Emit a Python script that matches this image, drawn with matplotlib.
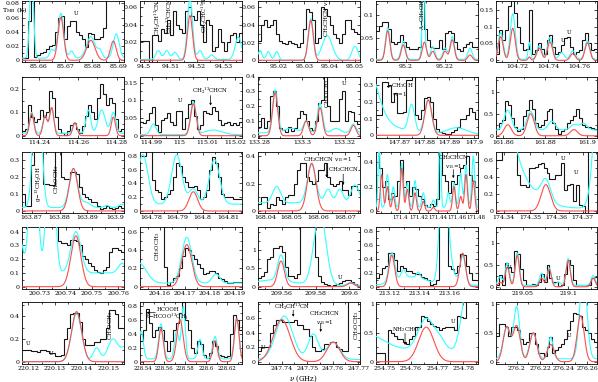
import numpy as np
import matplotlib.pyplot as plt
from matplotlib.ticker import AutoMinorLocator

plt.rcParams['font.family'] = ['DejaVu Serif']
plt.rcParams['mathtext.fontset'] = 'dejavuserif'

# ---- frequency windows (GHz) and T_MB ranges (K) of the 25 panels ----
xlims = [(85.6538, 85.6919), (94.4985, 94.5371), (95.0117, 95.0521), (95.1846, 95.2369), (104.7063, 104.7714),
         (114.2311, 114.2837), (114.9858, 115.0225), (133.2795, 133.3272), (147.8606, 147.9016), (161.8567, 161.9048),
         (163.8665, 163.9032), (164.7754, 164.8154), (168.0374, 168.0756), (171.3746, 171.4824), (174.337, 174.3755),
         (200.7234, 200.7622), (204.152, 204.1928), (209.546, 209.6063), (213.1111, 213.1791), (219.0207, 219.1315),
         (220.1176, 220.1559), (228.5369, 228.634), (247.7307, 247.7707), (254.7466, 254.7856), (276.1824, 276.2683)]
ylims = [(-0.0024, 0.0832), (-0.0019, 0.0663), (-0.0019, 0.067), (-0.0037, 0.1306), (-0.005, 0.176),
         (-0.01, 0.254), (-0.0065, 0.167), (-0.015, 0.4), (-0.016, 0.35), (-0.05, 1.34),
         (-0.012, 0.347), (-0.029, 0.858), (-0.015, 0.432), (-0.016, 0.485), (-0.024, 0.694),
         (-0.013, 0.434), (-0.02, 0.652), (-0.05, 1.63), (-0.026, 0.853), (-0.04, 1.376),
         (-0.02, 0.524), (-0.033, 0.853), (-0.032, 0.823), (-0.04, 1.036), (-0.04, 1.036)]
xticks = [[85.66, 85.67, 85.68, 85.69], [94.5, 94.51, 94.52, 94.53], [95.02, 95.03, 95.04, 95.05],
          [95.2, 95.22], [104.72, 104.74, 104.76],
          [114.24, 114.26, 114.28], [114.99, 115.0, 115.01, 115.02], [133.28, 133.3, 133.32],
          [147.87, 147.88, 147.89, 147.9], [161.86, 161.88, 161.9],
          [163.87, 163.88, 163.89, 163.9], [164.78, 164.79, 164.8, 164.81], [168.04, 168.05, 168.06, 168.07],
          [171.4, 171.42, 171.44, 171.46, 171.48], [174.34, 174.35, 174.36, 174.37],
          [200.73, 200.74, 200.75, 200.76], [204.16, 204.17, 204.18, 204.19], [209.56, 209.58, 209.6],
          [213.12, 213.14, 213.16], [219.05, 219.1],
          [220.12, 220.13, 220.14, 220.15], [228.54, 228.56, 228.58, 228.6, 228.62],
          [247.74, 247.75, 247.76, 247.77], [254.75, 254.76, 254.77, 254.78], [276.2, 276.22, 276.24, 276.26]]
yticks = [[0, 0.02, 0.04, 0.06, 0.08], [0, 0.02, 0.04, 0.06], [0, 0.02, 0.04, 0.06], [0, 0.05, 0.1], [0, 0.05, 0.1, 0.15],
          [0, 0.1, 0.2], [0, 0.05, 0.1, 0.15], [0, 0.1, 0.2, 0.3, 0.4], [0, 0.1, 0.2, 0.3], [0, 0.5, 1],
          [0, 0.1, 0.2, 0.3], [0, 0.2, 0.4, 0.6, 0.8], [0, 0.2, 0.4], [0, 0.2, 0.4], [0, 0.2, 0.4, 0.6],
          [0, 0.1, 0.2, 0.3, 0.4], [0, 0.2, 0.4, 0.6], [0, 0.5, 1], [0, 0.2, 0.4, 0.6, 0.8], [0, 0.5, 1],
          [0, 0.2, 0.4], [0, 0.2, 0.4, 0.6, 0.8], [0, 0.2, 0.4, 0.6], [0, 0.5, 1], [0, 0.5, 1]]

# ---- observed spectra (equal channels across each window) ----
obs = [
    [0.003, 0.003, 0.055, 0.1, 0.004, 0.008, 0.01, 0.012, 0.016, 0.02, 0.022, 0.04, 0.06, 0.062, 0.03, 0.048, 0.055,
     0.055, 0.04, 0.035, 0.03, 0.018, 0.038, 0.037, 0.03, 0.03, 0.032, 0.045, 0.1, 0.1, 0.1, 0.1, 0.1, 0.1],
    [0.022, 0.022, 0.022, -0.003, 0.028, 0.028, 0.022, 0.035, 0.03, 0.045, 0.028, 0.055, 0.04, 0.035, 0.03, 0.055,
     0.06, 0.05, 0.045, 0.055, 0.04, 0.02, 0.045, 0.04, 0.01, 0.015, 0.035, 0.02, 0.01, 0.02, 0.028, 0.03, 0.02, 0.03],
    [0.022, 0.04, 0.045, 0.038, 0.04, 0.045, 0.03, 0.022, 0.02, 0.018, 0.022, 0.02, 0.018, 0.015, 0.02, 0.035, 0.058,
     0.055, 0.045, 0.02, 0.025, 0.06, 0.058, 0.05, 0.04, 0.03, 0.025, 0.02, 0.03, 0.045, 0.045, 0.035, 0.032, 0.03],
    [0.065, 0.075, 0.085, 0.085, 0.07, 0.04, 0.035, 0.04, 0.055, 0.04, 0.03, 0.025, 0.025, 0.025, 0.03, 0.135, 0.07,
     0.045, 0.03, 0.028, 0.028, 0.045, 0.025, 0.06, 0.065, 0.06, 0.04, 0.025, 0.02, 0.03, 0.035, 0.04, 0.03, 0.03],
    [0.02, 0.09, 0.06, 0.09, 0.16, 0.19, 0.14, 0.1, 0.05, 0.03, 0.035, 0.15, 0.02, 0.03, 0.05, 0.035, 0.02, 0.06,
     0.075, 0.04, 0.02, 0.025, 0.045, 0.065, 0.07, 0.04, 0.02, 0.025, 0.03, 0.06, 0.08, 0.05, 0.03, 0.035],
    [0.02, 0.03, 0.13, 0.08, 0.06, 0.07, 0.11, 0.08, 0.1, 0.19, 0.16, 0.08, 0.03, 0.01, 0.005, 0.02, 0.045, 0.055,
     0.03, 0.01, 0.04, 0.085, 0.13, 0.1, 0.07, 0.16, 0.22, 0.18, 0.13, 0.16, 0.14, 0.07, 0.02, 0.03],
    [0.04, 0.035, 0.045, 0.065, 0.08, 0.03, 0.01, 0.045, 0.05, 0.065, 0.04, 0.03, 0.07, 0.07, 0.02, 0.05, 0.09, 0.1,
     0.055, 0.02, 0.03, 0.07, 0.065, 0.06, 0.08, 0.07, 0.045, 0.03, 0.035, 0.04, 0.03, 0.035, 0.03, 0.04],
    [0.06, 0.12, 0.05, 0.1, 0.27, 0.3, 0.2, 0.05, 0.04, 0.025, 0.06, 0.03, 0.05, 0.12, 0.17, 0.15, 0.1, 0.05, 0.04,
     0.1, 0.22, 0.24, 0.42, 0.2, 0.1, 0.1, 0.1, 0.25, 0.3, 0.1, 0.17, 0.16, 0.1, 0.08],
    [0.12, 0.12, 0.32, 0.32, 0.3, 0.2, 0.25, 0.13, 0.13, 0.14, 0.33, 0.33, 0.36, 0.12, 0.1, 0.15, 0.22, 0.23, 0.2,
     0.1, 0.04, 0.02, 0.015, 0.01, 0.01, 0.02, 0.03, 0.05, 0.1, 0.1, 0.12, 0.16, 0.14, 0.1],
    [0.15, 0.3, 0.35, 0.78, 0.7, 0.4, 0.2, 0.1, 0.15, 0.45, 0.58, 0.82, 0.6, 0.3, 0.2, 0.25, 0.35, 0.55, 0.6, 0.3,
     0.15, 0.05, 0.1, 0.15, 0.3, 0.35, 0.45, 0.6, 0.4, 0.25, 0.2, 0.2, 0.18, 0.15],
    [0.1, 0.03, 0.03, 0.27, 0.36, 0.36, 0.36, 0.16, 0.16, 0.15, 0.15, 0.36, 0.36, 0.2, 0.19, 0.19, 0.23, 0.23, 0.22,
     0.14, 0.1, 0.08, 0.07, 0.05, 0.05, 0.03, 0.01, 0.02, 0.03, 0.02, 0.01, 0.02, 0.03, 0.02],
    [0.8, 0.8, 0.9, 0.9, 0.45, 0.3, 0.28, 0.17, 0.2, 0.25, 0.3, 0.5, 0.7, 0.65, 0.5, 0.42, 0.35, 0.35, 0.36, 0.3,
     0.18, 0.2, 0.3, 0.6, 0.78, 0.7, 0.5, 0.25, 0.2, 0.2, 0.2, 0.18, 0.17, 0.17],
    [0.05, 0.1, 0.1, 0.02, 0.05, 0.04, 0.1, 0.08, 0.05, 0.1, 0.12, 0.12, 0.2, 0.3, 0.35, 0.35, 0.25, 0.22, 0.2, 0.22,
     0.3, 0.3, 0.35, 0.25, 0.2, 0.18, 0.2, 0.22, 0.15, 0.15, 0.12, 0.18, 0.18, 0.15],
    [0.5, 0.35, 0.2, 0.25, 0.1, 0.15, 0.12, 0.25, 0.42, 0.2, 0.25, 0.12, 0.2, 0.18, 0.12, 0.1, 0.05, 0.03, 0.06,
     0.04, 0.1, 0.5, 0.3, 0.25, 0.15, 0.25, 0.22, 0.3, 0.35, 0.38, 0.45, 0.3, 0.25, 0.2],
    [0.6, 0.6, 0.75, 0.75, 0.75, 0.75, 0.75, 0.42, 0.3, 0.3, 0.28, 0.5, 0.5, 0.52, 0.55, 0.57, 0.5, 0.45, 0.38,
     0.38, 0.42, 0.42, 0.57, 0.25, 0.3, 0.32, 0.12, 0.3, 0.07, 0.06, -0.05, 0.75, 0.75, 0.75],
    [0.5, 0.5, 0.5, 0.5, 0.5, 0.5, 0.5, 0.5, 0.5, 0.5, 0.5, 0.5, 0.33, 0.32, 0.32, 0.3, 0.34, 0.34, 0.33, 0.3, 0.22,
     0.2, 0.17, 0.15, 0.12, 0.11, 0.1, 0.12, 0.14, 0.25, 0.28, 0.28, 0.27, 0.25],
    [0.7, 0.7, 0.7, 0.7, 0.7, 0.7, 0.7, 0.7, 0.22, 0.02, 0.05, 0.1, 0.12, 0.2, 0.33, 0.42, 0.4, 0.35, 0.3, 0.25,
     0.2, 0.14, 0.15, 0.17, 0.17, 0.15, 0.1, 0.08, 0.06, 0.04, 0.04, 0.05, 0.05, 0.05],
    [0.25, 0.3, 0.4, 0.75, 0.8, 1.05, 1.05, 1.1, 0.95, 0.55, 0.3, 0.28, 0.25, 0.35, 1.7, 1.7, 1.7, 1.7, 1.7, 0.8,
     0.3, 0.12, 0.06, 0.04, 0.03, 0.04, 0.07, 0.1, 0.15, 0.17, 0.17, 0.12, 0.08, 0.05],
    [0.12, 0.18, 0.27, 0.3, 0.48, 0.48, 0.38, 0.22, 0.3, 0.27, 0.22, 0.22, 0.2, 0.18, 0.18, 0.14, 0.13, 0.1, 0.02,
     0.04, 0.1, 0.9, 0.9, 0.9, 0.3, 0.25, 0.2, 0.3, 0.46, 0.45, 0.3, 0.2, 0.1, 0.1],
    [0.05, 0.28, 0.05, 0.55, 0.45, 0.35, 0.82, 0.75, 0.4, 0.15, 0.05, 0.05, 0.06, 0.03, 0.1, 0.3, 0.12, 0.5, 0.2,
     0.1, 0.1, 0.02, 0.05, 0.3, 0.62, 0.5, 0.15, 0.03, 0.03, 0.03, 0.03, 0.05, 0.2, 0.22],
    [0.1, 0.1, 0.1, 0.09, 0.09, 0.085, 0.1, 0.1, 0.09, 0.08, 0.08, 0.05, 0.05, 0.06, 0.2, 0.3, 0.42, 0.43, 0.43,
     0.35, 0.2, 0.15, 0.15, 0.15, 0.17, 0.17, 0.2, 0.2, 0.3, 0.45, 0.45, 0.42, 0.3, 0.3],
    [0.3, 0.45, 0.75, 0.55, 0.35, 0.45, 0.5, 0.45, 0.3, 0.15, 0.3, 0.45, 0.55, 0.7, 0.85, 0.6, 0.45, 0.2, 0.12, 0.3,
     0.25, 0.1, 0.05, 0.12, 0.3, 0.22, 0.1, 0.08, 0.06, 0.08, 0.4, 0.67, 0.6, 0.45],
    [0.15, 0.2, 0.2, 0.2, 0.4, 0.5, 0.58, 0.58, 0.55, 0.55, 0.55, 0.55, 0.58, 0.5, 0.5, 0.45, 0.45, 0.35, 0.2, 0.15,
     0.15, 0.18, 0.25, 0.25, 0.27, 0.27, 0.2, 0.18, 0.15, 0.15, 0.9, 0.9, 0.9, 0.9],
    [0.15, 0.15, 0.15, -0.05, 0.55, 0.5, 0.45, 0.4, 0.4, 0.35, 0.3, 0.4, 0.45, 0.6, 0.6, 0.8, 0.78, 0.7, 0.65, 0.62,
     0.6, 0.55, 0.58, 0.6, 0.6, 0.6, 0.55, 0.8, 0.78, 0.75, 1.1, 1.1, 1.1, 1.1],
    [0.45, 0.65, 0.65, 0.6, 0.45, 0.6, 0.6, 0.55, 0.4, 0.3, 0.35, 0.5, 0.5, 0.3, 0.15, 0.15, 0.1, 0.25, 0.42, 0.15,
     0.2, 0.25, 0.3, 0.4, 0.55, 0.7, 0.85, 0.82, 0.8, 0.6, 0.55, 0.5, 0.4, 0.35],
]

# ---- model lines: (centre GHz, peak K, sigma GHz) ----
red_lines = [
    [(85.6683, 0.06, 0.00106), (85.6795, 0.028, 0.0016), (85.6879, 0.027, 0.00106)],
    [(94.5174, 0.05, 0.00096)],
    [(95.0326, 0.045, 0.001)],
    [(95.1906, 0.065, 0.0011), (95.1986, 0.034, 0.0011), (95.2094, 0.04, 0.0011), (95.2137, 0.02, 0.0011),
     (95.22, 0.02, 0.0011), (95.2237, 0.045, 0.0011), (95.2328, 0.012, 0.0011)],
    [(104.7093, 0.07, 0.0016), (104.7171, 0.095, 0.0016), (104.7278, 0.01, 0.0008), (104.7342, 0.036, 0.0016),
     (104.7411, 0.055, 0.0016), (104.7558, 0.02, 0.0016), (104.7652, 0.052, 0.0016)],
    [(114.2361, 0.095, 0.0011), (114.2430, 0.085, 0.0011), (114.2464, 0.12, 0.0011), (114.2584, 0.055, 0.0011),
     (114.2782, 0.08, 0.0011)],
    [(115.005, 0.09, 0.001)],
    [(133.2875, 0.29, 0.0012), (133.302, 0.1, 0.0012), (133.3085, 0.19, 0.0012), (133.3241, 0.07, 0.0012)],
    [(147.8816, 0.21, 0.0014)],
    [(161.8623, 0.25, 0.0017), (161.8732, 0.5, 0.0017), (161.8938, 0.14, 0.0017)],
    [(163.885, 0.25, 0.0015)],
    [(164.7963, 0.28, 0.0017)],
    [(168.0575, 0.35, 0.0016)],
    [(171.3806, 0.3, 0.0015), (171.3866, 0.2, 0.0015), (171.3929, 0.12, 0.0015), (171.4018, 0.35, 0.0015),
     (171.4077, 0.18, 0.0015), (171.4158, 0.15, 0.0015), (171.4246, 0.08, 0.0015), (171.4352, 0.03, 0.0015),
     (171.457, 0.2, 0.0015), (171.4641, 0.12, 0.0015), (171.4697, 0.3, 0.0015), (171.4774, 0.25, 0.0015)],
    [(174.356, 0.31, 0.0018)],
    [(200.7439, 0.37, 0.0019)],
    [(204.1707, 0.46, 0.002)],
    [(209.5596, 0.7, 0.002), (209.6008, 0.1, 0.002)],
    [(213.1216, 0.45, 0.0019), (213.1689, 0.48, 0.0019)],
    [(219.0251, 0.1, 0.0023), (219.0331, 0.45, 0.0023), (219.044, 0.72, 0.0023), (219.0708, 0.2, 0.0023),
     (219.0791, 0.4, 0.0023), (219.0999, 0.6, 0.0023), (219.1273, 0.2, 0.0023)],
    [(220.1381, 0.44, 0.0019)],
    [(228.5569, 0.47, 0.0022), (228.575, 0.6, 0.003), (228.6083, 0.3, 0.0022), (228.629, 0.62, 0.0022)],
    [(247.74, 0.58, 0.0033), (247.7602, 0.27, 0.0025)],
    [(254.7658, 0.6, 0.0029)],
    [(276.1915, 0.6, 0.003), (276.2, 0.62, 0.003), (276.2141, 0.5, 0.003), (276.2289, 0.3, 0.003),
     (276.2544, 0.8, 0.003)],
]
cyan_lines = [
    [(85.6574, 0.12, 0.0007), (85.6649, 0.012, 0.0008), (85.6683, 0.063, 0.00106), (85.6723, 0.01, 0.0008),
     (85.6795, 0.03, 0.0016), (85.6829, 0.01, 0.0008), (85.6890, 0.034, 0.0011)],
    [(94.5054, 0.01, 0.0009), (94.5086, 0.01, 0.0009), (94.5117, 0.008, 0.0009), (94.5174, 0.068, 0.00096),
     (94.5212, 0.01, 0.0009), (94.5256, 0.005, 0.0009), (94.5357, 0.025, 0.0012)],
    [(95.0125, 0.011, 0.0008), (95.0158, 0.01, 0.0008), (95.0191, 0.01, 0.0008), (95.0326, 0.047, 0.001),
     (95.0391, 0.028, 0.002), (95.0501, 0.016, 0.0012)],
    [(95.1906, 0.07, 0.0011), (95.1986, 0.04, 0.0011), (95.2089, 0.25, 0.0005), (95.2094, 0.035, 0.0011),
     (95.2137, 0.028, 0.0011), (95.22, 0.025, 0.0011), (95.2237, 0.05, 0.0011), (95.2328, 0.025, 0.0011)],
    [(104.7093, 0.08, 0.0016), (104.7171, 0.135, 0.0016), (104.7278, 0.05, 0.0008), (104.7342, 0.04, 0.0016),
     (104.7411, 0.065, 0.0016), (104.7486, 0.02, 0.0016), (104.7558, 0.025, 0.0016), (104.7652, 0.055, 0.0016)],
    [(114.2361, 0.09, 0.0011), (114.2430, 0.075, 0.0011), (114.2464, 0.11, 0.0011), (114.2584, 0.045, 0.0011),
     (114.2653, 0.1, 0.0012), (114.2722, 0.1, 0.0018), (114.2782, 0.09, 0.0013)],
    [(114.9906, 0.03, 0.001), (115.005, 0.092, 0.001), (115.0122, 0.013, 0.003)],
    [(133.2875, 0.29, 0.0012), (133.302, 0.08, 0.0012), (133.3085, 0.2, 0.0012), (133.3241, 0.06, 0.0012),
     (133.295, 0.03, 0.003), (133.316, 0.03, 0.002)],
    [(147.856, 0.4, 0.0045), (147.86, 0.06, 0.01), (147.8749, 0.16, 0.0012), (147.8816, 0.2, 0.0014),
     (147.893, 0.04, 0.004)],
    [(161.8623, 0.45, 0.0017), (161.8732, 0.42, 0.0017), (161.8832, 0.2, 0.0017), (161.8938, 0.12, 0.0017),
     (161.8983, 0.15, 0.0017)],
    [(163.872, 1.0, 0.0013), (163.885, 0.23, 0.0015), (163.8896, 0.03, 0.0015), (163.897, 0.012, 0.001),
     (163.9024, 0.02, 0.001)],
    [(164.7765, 0.72, 0.002), (164.7898, 0.72, 0.002), (164.7963, 0.22, 0.0017), (164.8046, 0.65, 0.002)],
    [(168.0444, 0.12, 0.0015), (168.0575, 0.28, 0.0016), (168.0636, 0.1, 0.0012), (168.068, 0.1, 0.0012),
     (168.0737, 0.13, 0.0015)],
    [(171.3778, 0.55, 0.001), (171.3866, 0.27, 0.0015), (171.3929, 0.17, 0.0015), (171.4018, 0.36, 0.0015),
     (171.4077, 0.2, 0.0015), (171.4158, 0.22, 0.0015), (171.4246, 0.12, 0.0015), (171.4352, 0.06, 0.0015),
     (171.4422, 0.7, 0.001), (171.451, 0.12, 0.0015), (171.457, 0.2, 0.0015), (171.4641, 0.28, 0.0015),
     (171.4697, 0.35, 0.0015), (171.4774, 0.42, 0.0015)],
    [(174.335, 1.5, 0.0055), (174.338, 0.5, 0.01), (174.356, 0.25, 0.0018), (174.377, 2.0, 0.0022)],
    [(200.7226, 0.25, 0.0012), (200.7278, 1.2, 0.0014), (200.7343, 1.2, 0.0014), (200.7439, 0.3, 0.0019),
     (200.7615, 0.07, 0.0015)],
    [(204.1515, 0.22, 0.003), (204.1707, 0.5, 0.002), (204.1824, 0.1, 0.0015)],
    [(209.5596, 0.7, 0.002), (209.5826, 2.0, 0.0035), (209.6008, 0.08, 0.002), (209.555, 0.15, 0.012)],
    [(213.1216, 0.42, 0.0019), (213.1293, 0.12, 0.0015), (213.1393, 0.08, 0.0012), (213.156, 2.0, 0.0022),
     (213.1595, 0.4, 0.003), (213.1689, 0.42, 0.0019), (213.135, 0.12, 0.01)],
    [(219.0251, 0.2, 0.0023), (219.0331, 0.52, 0.0023), (219.044, 0.75, 0.0023), (219.0708, 0.28, 0.0023),
     (219.0791, 0.4, 0.0023), (219.089, 0.08, 0.0023), (219.0999, 0.62, 0.0023), (219.1273, 0.23, 0.0023)],
    [(220.1381, 0.42, 0.0019), (220.1456, 0.12, 0.0013), (220.1518, 0.2, 0.002), (220.1565, 0.12, 0.0015)],
    [(228.538, 0.4, 0.002), (228.5569, 0.5, 0.0022), (228.5718, 0.4, 0.002), (228.5781, 0.75, 0.0018),
     (228.594, 0.28, 0.002), (228.6083, 0.32, 0.0022), (228.629, 0.58, 0.0022)],
    [(247.741, 0.6, 0.0033), (247.7524, 0.35, 0.002), (247.7602, 0.24, 0.0025)],
    [(254.742, 0.3, 0.007), (254.7658, 0.55, 0.003), (254.7711, 0.15, 0.002), (254.7794, 0.35, 0.0015),
     (254.7835, 2.5, 0.002)],
    [(276.1915, 0.55, 0.003), (276.2, 0.9, 0.0025), (276.2141, 0.45, 0.003), (276.2289, 0.38, 0.002),
     (276.2566, 1.5, 0.003)],
]
cyan_base = [0.003, 0.001, 0.0, 0.002, 0.003, 0.01, 0.003, 0.02, 0.005, 0.13,
             0.02, 0.1, 0.06, 0.03, 0.03, 0.1, 0.04, 0.03, 0.02, 0.03,
             0.0, 0.04, 0.03, 0.2, 0.05]

# ---- line identifications: (panel, x, y, text, rotation, ha, va) ----
labels = [
    (0, 85.674, 0.066, 'U', 0, 'center', 'center'),
    (1, 94.5054, 0.027, r'CH$_2$CH$^{13}$CN', 90, 'center', 'bottom'),
    (1, 94.5099, 0.029, r'CH$_2$$^{13}$CHCN', 90, 'center', 'bottom'),
    (1, 94.5230, 0.031, r'CH$_2$CHC$^{15}$N', 90, 'center', 'bottom'),
    (2, 95.0390, 0.026, r'CH$_2$CHCN $v_{11}$=1', 90, 'center', 'bottom'),
    (3, 95.2085, 0.066, r'A$-$CH$_3$OH', 90, 'center', 'bottom'),
    (4, 104.7493, 0.058, 'U', 0, 'center', 'center'),
    (4, 104.7536, 0.083, 'U', 0, 'center', 'center'),
    (6, 115.0002, 0.10, 'U', 0, 'center', 'center'),
    (6, 115.0112, 0.125, r'CH$_2$$^{13}$CHCN', 0, 'center', 'center'),
    (7, 133.3119, 0.385, r'CH$_3$OCH$_3$', 90, 'center', 'top'),
    (7, 133.3199, 0.35, 'U', 0, 'center', 'center'),
    (8, 147.8666, 0.27, 'CH$_3$OH\n $v_t$=1', 0, 'left', 'center'),
    (10, 163.8727, 0.05, r'g$-^{13}$CH$_2$OH', 90, 'center', 'bottom'),
    (10, 163.8789, 0.10, r'CH$_3$OCH$_3$', 90, 'center', 'bottom'),
    (12, 168.0634, 0.375, r'CH$_2$CHCN $v_{15}$=1', 0, 'center', 'center'),
    (12, 168.0696, 0.30, r'CH$_2$CHCN', 0, 'center', 'center'),
    (13, 171.4563, 0.40, 'CH$_2$CHCN\n$v_{15}$=1', 0, 'center', 'center'),
    (14, 174.3627, 0.62, 'U', 0, 'center', 'center'),
    (14, 174.3674, 0.45, 'U', 0, 'center', 'center'),
    (16, 204.1589, 0.60, r'CH$_3$OCH$_3$', 90, 'center', 'top'),
    (17, 209.5945, 0.25, 'U', 0, 'center', 'center'),
    (19, 219.0353, 0.45, 'U', 0, 'center', 'center'),
    (19, 219.0890, 0.20, 'U', 0, 'center', 'center'),
    (20, 220.1200, 0.16, 'U', 0, 'center', 'center'),
    (20, 220.1287, 0.075, 'U', 0, 'center', 'center'),
    (20, 220.1507, 0.19, r'CH$_3$OCH$_3$', 90, 'center', 'bottom'),
    (21, 228.5530, 0.745, 'HCOOH', 0, 'left', 'center'),
    (21, 228.5425, 0.635, r't$-$HCOO$^{13}$CH$_3$', 0, 'left', 'center'),
    (22, 247.7327, 0.20, 'U', 0, 'center', 'center'),
    (22, 247.7440, 0.76, r'CH$_2$CH$^{13}$CN', 0, 'center', 'center'),
    (22, 247.7570, 0.60, 'CH$_2$CHCN\n$v_{15}$=1', 0, 'center', 'center'),
    (22, 247.7693, 0.70, r'CH$_3$OCH$_3$', 90, 'center', 'top'),
    (23, 254.7580, 0.55, r'NH$_2$CHO', 0, 'center', 'center'),
    (23, 254.7762, 0.70, 'U', 0, 'center', 'center'),
    (24, 276.2447, 0.46, 'U', 0, 'center', 'center'),
]
# arrows: (panel, x_from, y_from, x_to, y_to)
arrows = [
    (6, 115.0112, 0.113, 115.0112, 0.085),
    (8, 147.8665, 0.29, 147.8648, 0.29),
    (12, 168.0631, 0.35, 168.0631, 0.245),
    (12, 168.0693, 0.27, 168.0693, 0.19),
    (13, 171.4563, 0.34, 171.4563, 0.27),
    (21, 228.5515, 0.70, 228.5430, 0.70),
    (22, 247.7445, 0.71, 247.7445, 0.62),
    (22, 247.7553, 0.53, 247.7553, 0.41),
    (23, 254.7577, 0.49, 254.7577, 0.29),
]


def line_model(x, comps, base=0.0):
    y = np.full_like(x, base)
    for c, a, s in comps:
        y += a * np.exp(-0.5 * ((x - c) / s) ** 2)
    return y


fig = plt.figure(figsize=(5.98, 3.82), dpi=100)
col_left = [22, 140, 258, 376, 496]
col_width = [102, 102, 102, 102, 101]
row_top = [1, 76.5, 152, 227, 302]
row_bottom = [62, 138, 213, 288.5, 364]

axes = []
for i in range(25):
    r, c = divmod(i, 5)
    ax = fig.add_axes([col_left[c] / 598, 1 - row_bottom[r] / 382,
                       col_width[c] / 598, (row_bottom[r] - row_top[r]) / 382])
    x0, x1 = xlims[i]
    edges = np.linspace(x0, x1, len(obs[i]) + 1)
    xf = np.linspace(x0, x1, 800)
    ax.stairs(obs[i], edges, color='#151515', lw=0.8, zorder=2, baseline=None)
    ax.plot(xf, line_model(xf, cyan_lines[i], cyan_base[i]), color='#33ffff', lw=0.8, zorder=3)
    ax.plot(xf, line_model(xf, red_lines[i]), color='#ff4d4d', lw=0.8, zorder=4)
    ax.set_xlim(x0, x1)
    ax.set_ylim(*ylims[i])
    ax.set_xticks(xticks[i], labels=[f'{t:g}' for t in xticks[i]])
    ax.set_yticks(yticks[i], labels=[f'{t:g}' for t in yticks[i]])
    ax.xaxis.set_minor_locator(AutoMinorLocator(2))
    ax.yaxis.set_minor_locator(AutoMinorLocator(2))
    ax.tick_params(which='both', direction='in', top=True, right=True, width=0.5,
                   labelsize=4.5, pad=1.5)
    if len(xticks[i]) > 4:
        ax.tick_params(axis='x', labelsize=3.9)
    ax.tick_params(which='major', length=2.5)
    ax.tick_params(which='minor', length=1.3)
    for sp in ax.spines.values():
        sp.set_linewidth(0.6)
    axes.append(ax)

for p, x, y, txt, rot, ha, va in labels:
    axes[p].text(x, y, txt, rotation=rot, ha=ha, va=va, fontsize=4.0,
                 linespacing=1.0, zorder=5)

for p, xa, ya, xb, yb in arrows:
    axes[p].annotate('', xy=(xb, yb), xytext=(xa, ya),
                     arrowprops=dict(arrowstyle='-|>', lw=0.5, color='k',
                                     mutation_scale=3, shrinkA=0, shrinkB=0))

fig.text(2 / 598, 1 - 10 / 382, r'T$_{\rm MB}$ (K)', fontsize=4.6, ha='left', va='center')
fig.text(303 / 598, 1 - 378.5 / 382, r'$\nu$ (GHz)', fontsize=5, ha='center', va='center')

fig.savefig('out.png', dpi=100)
